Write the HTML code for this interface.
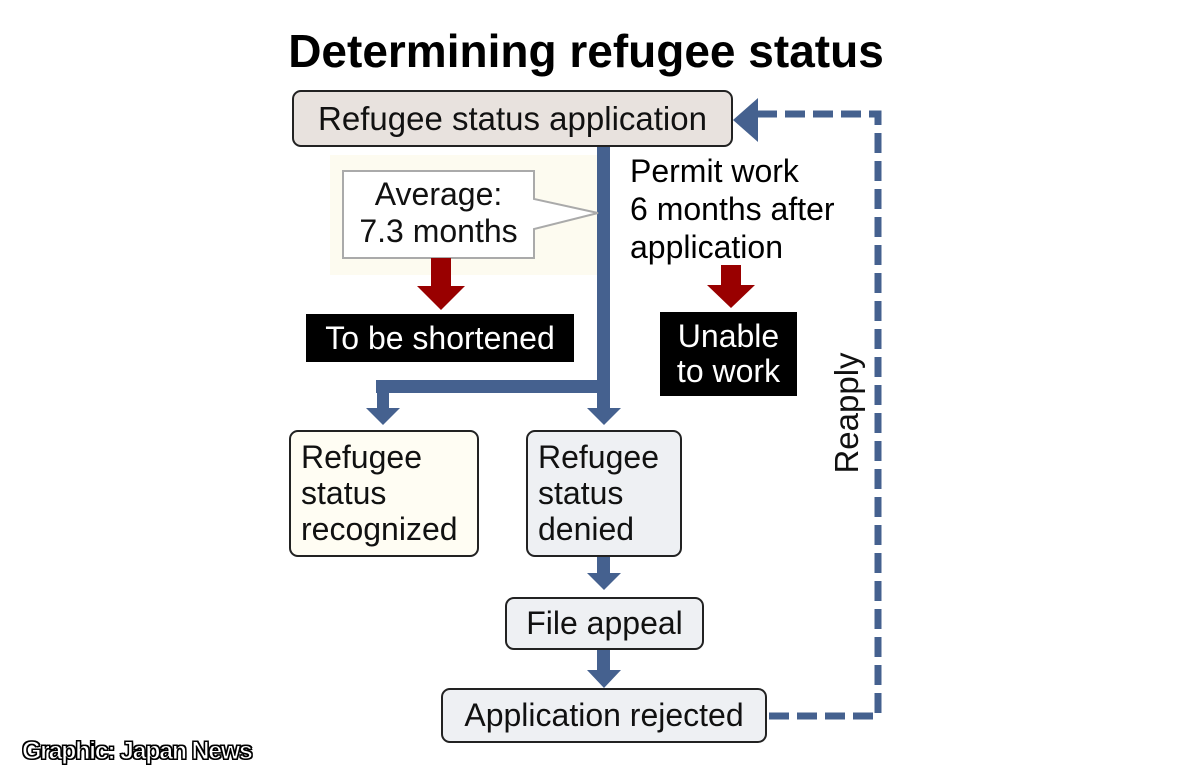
<!DOCTYPE html>
<html><head><style>
body{margin:0;width:1200px;height:781px;background:#fff;position:relative;overflow:hidden;font-family:"Liberation Sans",sans-serif;}
.a{position:absolute;box-sizing:border-box;}
.box{border:2px solid #222;border-radius:9px;font-size:32px;color:#111;line-height:36px;white-space:nowrap;}
.blk{background:#000;color:#fff;font-size:32px;text-align:center;white-space:nowrap;}
</style></head><body>
<div class="a" style="left:0;top:24px;width:1172px;text-align:center;font-size:46px;font-weight:bold;color:#000;white-space:nowrap;">Determining refugee status</div>
<div class="a" style="left:330px;top:155px;width:268px;height:120px;background:#fdfbf0;"></div>
<svg class="a" style="left:0;top:0" width="1200" height="781">
<g fill="#45618f">
<rect x="597" y="147" width="13" height="263"/>
<rect x="376" y="380" width="234" height="13"/>
<rect x="377" y="380" width="12" height="30"/>
<polygon points="366,408 400,408 383,425"/>
<polygon points="587,408 621,408 604,425"/>
<rect x="597" y="557" width="13" height="18"/>
<polygon points="587,573 621,573 604,590"/>
<rect x="597" y="650" width="13" height="22"/>
<polygon points="587,670 621,670 604,688"/>
<polygon points="733,120 758,98 758,142"/>
</g>
<g stroke="#45618f" stroke-width="7" fill="none" stroke-dasharray="20,8">
<polyline points="757,114 878,114 878,716 768,716"/>
</g>
<polygon points="343,171 534,171 534,199 598,213 534,229 534,258 343,258" fill="#fff" stroke="#aaa" stroke-width="2"/>
<g fill="#990000">
<rect x="431" y="258" width="20" height="30"/>
<polygon points="417,286 465,286 441,310"/>
<rect x="721" y="265" width="20" height="22"/>
<polygon points="707,285 755,285 731,308"/>
</g>
<text x="858" y="413" transform="rotate(-90 858 413)" text-anchor="middle" font-family="Liberation Sans" font-size="33" fill="#111">Reapply</text>
</svg>
<div class="a box" style="left:292px;top:90px;width:441px;height:57px;background:#e8e2de;text-align:center;line-height:53px;font-size:33px;">Refugee status application</div>
<div class="a" style="left:343px;top:176px;width:191px;text-align:center;font-size:32px;line-height:37px;color:#111;">Average:<br>7.3 months</div>
<div class="a" style="left:630px;top:152px;font-size:32px;line-height:38px;color:#000;white-space:nowrap;">Permit work<br>6 months after<br>application</div>
<div class="a blk" style="left:306px;top:314px;width:268px;height:48px;line-height:48px;">To be shortened</div>
<div class="a blk" style="left:660px;top:312px;width:137px;height:84px;line-height:35px;padding-top:7px;">Unable<br>to work</div>
<div class="a box" style="left:289px;top:430px;width:190px;height:127px;background:#fffdf3;padding:7px 0 0 10px;">Refugee<br>status<br>recognized</div>
<div class="a box" style="left:526px;top:430px;width:156px;height:127px;background:#eef0f3;padding:7px 0 0 10px;">Refugee<br>status<br>denied</div>
<div class="a box" style="left:505px;top:597px;width:199px;height:53px;background:#eef0f3;text-align:center;line-height:49px;">File appeal</div>
<div class="a box" style="left:441px;top:688px;width:326px;height:55px;background:#eef0f3;text-align:center;line-height:51px;">Application rejected</div>
<div class="a" style="left:22px;top:737px;font-size:25px;font-weight:bold;letter-spacing:-1.3px;color:#fff;-webkit-text-stroke:1px #000;text-shadow:1px 1px 0 #000,-1px -1px 0 #000,1px -1px 0 #000,-1px 1px 0 #000;white-space:nowrap;">Graphic: Japan News</div>
</body></html>
